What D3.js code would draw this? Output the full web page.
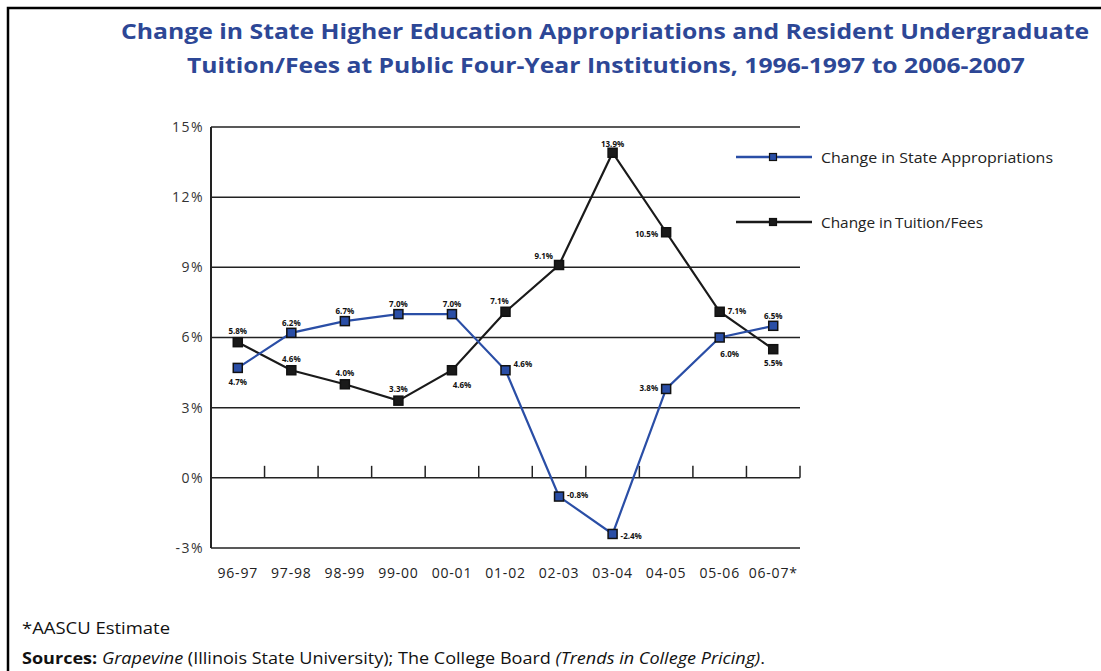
<!DOCTYPE html>
<html>
<head>
<meta charset="utf-8">
<script src="https://cdn.jsdelivr.net/npm/d3@7"></script>
<style>
  body { margin: 0; background: #fff; }
  svg { display: block; font-family: "Open Sans", "DejaVu Sans", sans-serif; }
</style>
</head>
<body>
<svg width="1101" height="671"></svg>
<script>
const years = ['96-97', '97-98', '98-99', '99-00', '00-01', '01-02', '02-03', '03-04', '04-05', '05-06', '06-07*'];
const appropriations = [4.7, 6.2, 6.7, 7.0, 7.0, 4.6, -0.8, -2.4, 3.8, 6.0, 6.5];
const tuition = [5.8, 4.6, 4.0, 3.3, 4.6, 7.1, 9.1, 13.9, 10.5, 7.1, 5.5];
const yTicks = [-3, 0, 3, 6, 9, 12, 15];
const seriesNames = ['Change in State Appropriations', 'Change in\u2009Tuition/Fees'];

const svg = d3.select('svg');
const margin = {top: 127, left: 211, right: 301, bottom: 123};
const width = 1101, height = 671;

// frame
svg.append('path')
    .attr('d', 'M8,671 V8 H1101')
    .attr('fill', 'none')
    .attr('stroke', '#000')
    .attr('stroke-width', 2.5);

// title
const titleColor = '#2d4796';
const title = svg.append('g')
    .attr('fill', titleColor)
    .attr('font-weight', 'bold')
    .attr('font-size', 21)
    .attr('text-anchor', 'middle');
title.append('text').attr('x', 605).attr('y', 39)
    .attr('textLength', 968).attr('lengthAdjust', 'spacingAndGlyphs')
    .text('Change in State Higher Education Appropriations and Resident Undergraduate');
title.append('text').attr('x', 606).attr('y', 73)
    .attr('textLength', 838).attr('lengthAdjust', 'spacingAndGlyphs')
    .text('Tuition/Fees at Public Four-Year Institutions, 1996-1997 to 2006-2007');

const x = d3.scaleBand()
    .domain(years)
    .range([margin.left, width - margin.right]);

const y = d3.scaleLinear()
    .domain([-3, 15])
    .range([height - margin.bottom, margin.top]);

const g = svg.append('g');

// horizontal grid lines
g.selectAll('line.grid').data(yTicks)
    .enter().append('line')
    .attr('class', 'grid')
    .attr('x1', margin.left)
    .attr('x2', width - margin.right)
    .attr('y1', d => y(d))
    .attr('y2', d => y(d))
    .attr('stroke', '#222')
    .attr('stroke-width', 1.5);

// left axis line
g.append('line')
    .attr('x1', margin.left).attr('x2', margin.left)
    .attr('y1', y(15)).attr('y2', y(-3))
    .attr('stroke', '#222')
    .attr('stroke-width', 2);

// y labels
g.selectAll('text.ylab').data(yTicks)
    .enter().append('text')
    .attr('class', 'ylab')
    .attr('x', margin.left - 7)
    .attr('y', d => y(d))
    .attr('dy', '0.35em')
    .attr('text-anchor', 'end')
    .attr('font-size', 14)
    .attr('letter-spacing', 1.5)
    .attr('fill', '#333')
    .text(d => d + '%');

// category ticks on 0% line
g.selectAll('line.tick').data(years)
    .enter().append('line')
    .attr('class', 'tick')
    .attr('x1', d => x(d) + x.bandwidth())
    .attr('x2', d => x(d) + x.bandwidth())
    .attr('y1', y(0))
    .attr('y2', y(0) - 12)
    .attr('stroke', '#222')
    .attr('stroke-width', 1.5);

// x labels
g.selectAll('text.xlab').data(years)
    .enter().append('text')
    .attr('class', 'xlab')
    .attr('x', d => x(d) + x.bandwidth() / 2)
    .attr('y', y(-3) + 30)
    .attr('text-anchor', 'middle')
    .attr('font-size', 14)
    .attr('letter-spacing', 0.8)
    .attr('fill', '#222')
    .text(d => d);

const cx = (d, i) => x(years[i]) + x.bandwidth() / 2;
const line = d3.line().x(cx).y(d => y(d));

const blue = '#2a4ea6';

// label placements: [dx, dy, anchor]
const apPos = [[0, 14, 'middle'], [0, -10, 'middle'], [0, -10, 'middle'], [0, -10, 'middle'], [0, -10, 'middle'],
    [8, -6, 'start'], [8, -1, 'start'], [8, 2, 'start'], [-8, -1, 'end'], [10, 17, 'middle'], [0, -10, 'middle']];
const tuPos = [[0, -11, 'middle'], [0, -11, 'middle'], [0, -11, 'middle'], [0, -11, 'middle'], [10, 15, 'middle'],
    [-6, -11, 'middle'], [-6, -9, 'end'], [0, -9, 'middle'], [-8, 2, 'end'], [8, -1, 'start'], [0, 14, 'middle']];

function drawSeries(values, color, markerFill, pos) {
    const s = g.append('g');
    s.append('path')
        .datum(values)
        .attr('d', line)
        .attr('fill', 'none')
        .attr('stroke', color)
        .attr('stroke-width', 2.2);
    s.selectAll('rect').data(values)
        .enter().append('rect')
        .attr('x', (d, i) => cx(d, i) - 4.5)
        .attr('y', d => y(d) - 4.5)
        .attr('width', 9)
        .attr('height', 9)
        .attr('fill', markerFill)
        .attr('stroke', '#111')
        .attr('stroke-width', 1.5);
    s.selectAll('text').data(values)
        .enter().append('text')
        .attr('x', (d, i) => cx(d, i) + pos[i][0])
        .attr('y', (d, i) => y(d) + pos[i][1])
        .attr('dy', '0.35em')
        .attr('text-anchor', (d, i) => pos[i][2])
        .attr('font-size', 8)
        .attr('font-weight', 'bold')
        .attr('fill', '#111')
        .text(d => d.toFixed(1) + '%');
}

drawSeries(tuition, '#1a1a1a', '#1a1a1a', tuPos);
drawSeries(appropriations, blue, blue, apPos);

// legend
const legend = svg.append('g');
const legendItems = [
    {name: seriesNames[0], color: blue, y: 157, len: 232},
    {name: seriesNames[1], color: '#1a1a1a', y: 222, len: 162}
];
legendItems.forEach(it => {
    legend.append('line')
        .attr('x1', 736).attr('x2', 812)
        .attr('y1', it.y).attr('y2', it.y)
        .attr('stroke', it.color)
        .attr('stroke-width', 2.5);
    legend.append('rect')
        .attr('x', 773 - 3.5).attr('y', it.y - 3.5)
        .attr('width', 7).attr('height', 7)
        .attr('fill', it.color)
        .attr('stroke', '#111')
        .attr('stroke-width', 1.2);
    legend.append('text')
        .attr('x', 821).attr('y', it.y)
        .attr('dy', '0.38em')
        .attr('font-size', 14.5)
        .attr('textLength', it.len)
        .attr('lengthAdjust', 'spacingAndGlyphs')
        .attr('fill', '#222')
        .text(it.name);
});

// footer notes
svg.append('text')
    .attr('x', 22).attr('y', 634)
    .attr('font-size', 15.5)
    .attr('textLength', 148)
    .attr('lengthAdjust', 'spacingAndGlyphs')
    .attr('fill', '#111')
    .text('*AASCU Estimate');

const src = svg.append('text')
    .attr('x', 22).attr('y', 664)
    .attr('font-size', 15.5)
    .attr('textLength', 743)
    .attr('lengthAdjust', 'spacingAndGlyphs')
    .attr('fill', '#111');
src.append('tspan').attr('font-weight', 'bold').text('Sources: ');
src.append('tspan').attr('font-style', 'italic').text('Grapevine');
src.append('tspan').text(' (Illinois State University); The College Board ');
src.append('tspan').attr('font-style', 'italic').text('(Trends in College Pricing)');
src.append('tspan').text('.');
</script>
</body>
</html>
